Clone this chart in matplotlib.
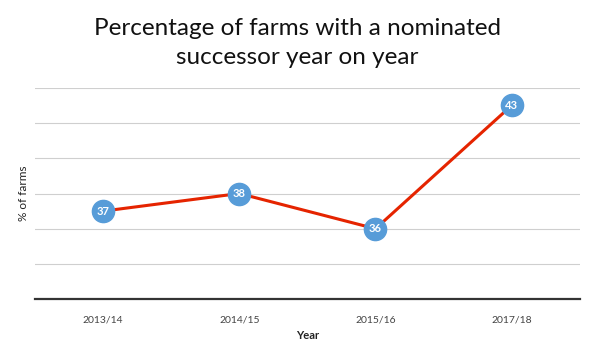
import matplotlib
matplotlib.use("Agg")
import matplotlib.pyplot as plt

years = ["2013/14", "2014/15", "2015/16", "2017/18"]
values = [37, 38, 36, 43]
grid_ticks = [32, 34, 36, 38, 40, 42, 44]

plt.rcParams['font.family'] = ['Lato', 'DejaVu Sans']

fig = plt.figure(figsize=(5.94, 3.6), dpi=100)
ax = fig.add_axes([0.059, 0.169, 0.917, 0.587])
x = list(range(len(years)))
ax.plot(x, values, color="#e52400", lw=2.2, zorder=3)
ax.plot(x, values, linestyle="none", marker="o", ms=16, color="#579cd8", zorder=4)
for xi, v in zip(x, values):
    ax.text(xi, v, str(v), ha="center", va="center", color="white",
            fontsize=8, fontweight="bold", zorder=5)

ax.set_xlim(-0.5, 3.5)
ax.set_ylim(32, 44)
ax.set_yticks(grid_ticks)
ax.set_yticklabels([])
ax.tick_params(axis="y", length=0, pad=0)
ax.tick_params(axis="x", length=0, labelsize=7.5, colors="#444444", pad=12)
ax.set_xticks(x)
ax.set_xticklabels(years)
ax.yaxis.grid(True, color="#cfcfcf", lw=0.8)
ax.set_axisbelow(True)
for s in ["top", "right", "left"]:
    ax.spines[s].set_visible(False)
ax.spines["bottom"].set_color("#333333")
ax.spines["bottom"].set_linewidth(1.6)
ax.spines["bottom"].set_zorder(2)

ax.set_xlabel("Year", fontsize=8, fontweight="bold", color="#222222", labelpad=4)
ax.set_ylabel("% of farms", fontsize=8.5, color="#222222", labelpad=4)
fig.text(0.5, 0.88, "Percentage of farms with a nominated\nsuccessor year on year",
         ha="center", va="center", fontsize=17.5, fontweight="normal",
         color="#111111", linespacing=1.5)

fig.savefig("out.png", dpi=100)
